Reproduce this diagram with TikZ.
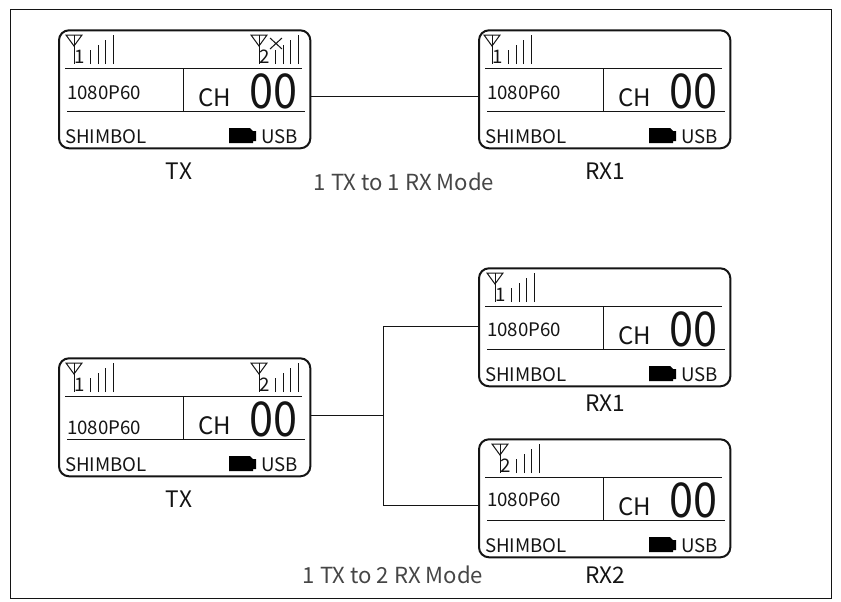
\documentclass[tikz,border=0pt]{standalone}
\usepackage{fontspec}
\setmainfont{Noto Sans CJK SC}
\definecolor{ink}{RGB}{20,20,20}
\definecolor{caption}{RGB}{70,70,70}
\tikzset{
	screen/.style={draw=ink,line width=1.5pt,rounded corners=7.5pt,minimum width=188.5pt,minimum height=88.5pt,anchor=north west,inner sep=0pt},
	thin line/.style={draw=ink,line width=0.75pt},
	small text/.style={inner sep=0pt,text=ink,font=\fontsize{14}{15}\selectfont},
	ch text/.style={inner sep=0pt,text=ink,font=\fontsize{18}{18}\selectfont},
	big text/.style={inner sep=0pt,text=ink,xscale=0.9,font=\fontsize{36}{36}\selectfont},
	label text/.style={inner sep=0pt,text=ink,font=\fontsize{17}{18}\selectfont},
	mode text/.style={inner sep=0pt,text=caption,font=\fontsize{16.6}{17}\selectfont}
}
% antenna with four bars: x of mast, y of box, name, number
\newcommand{\antenna}[4]{
	\draw[thin line] (#1-8,#2+5) -- (#1+8,#2+5) -- (#1,#2+16) -- cycle;
	\draw[thin line] (#1,#2+5) -- (#1,#2+34);
	\node[small text] (#3num) at (#1+6,#2+27) {#4};
	\foreach \b/\t in {16/20,24/15,31/10,39/5}
		\draw[thin line] (#1+\b,#2+34) -- (#1+\b,#2+\t);
}
% whole screen: name, x, y, height of the quality line
\newcommand{\lcdscreen}[4]{
	\node[screen] (#1) at (#2,#3-0.7) {};
	\draw[thin line] (#2+7,#3+38) -- (#2+244,#3+38);
	\draw[thin line] (#2+9,#3+81) -- (#2+247,#3+81);
	\draw[thin line] (#2+125,#3+38) -- (#2+125,#3+81);
	\node[small text,anchor=west] (#1res) at (#2+9,#3+#4+1) {1080P60};
	\node[ch text,anchor=west] (#1ch) at (#2+140,#3+68) {CH};
	\node[big text,anchor=west] (#1num) at (#2+191,#3+61) {00};
	\node[small text,anchor=west] (#1brand) at (#2+7,#3+107) {SHIMBOL};
	\fill[black] (#2+171,#3+98) -- (#2+192,#3+98) -- (#2+195,#3+101) -- (#2+198,#3+101) -- (#2+198,#3+111) -- (#2+195,#3+111) -- (#2+195,#3+113) -- (#2+171,#3+113) -- cycle;
	\node[small text,anchor=west] (#1usb) at (#2+203,#3+107) {USB};
}
\begin{document}
\begin{tikzpicture}[x=0.75pt,y=-0.75pt]
	\useasboundingbox (0,0) rectangle (841,601);
	\node[draw=ink,line width=0.75pt,minimum width=615.75pt,minimum height=441.75pt,anchor=north west,inner sep=0pt] (frame) at (10,9) {};

	\lcdscreen{tx1}{58}{30}{62}
	\lcdscreen{rx1}{478}{30}{62}
	\lcdscreen{rx3}{478}{268}{61}
	\lcdscreen{tx2}{58}{358}{69}
	\lcdscreen{rx2}{478}{439}{60}

	\antenna{74}{30}{tx1a}{1}
	\antenna{259}{30}{tx1b}{2}
	\draw[thin line] (270,38) -- (282,49) (282,38) -- (270,49);
	\antenna{492}{30}{rx1a}{1}
	\antenna{495}{268}{rx3a}{1}
	\antenna{74}{358}{tx2a}{1}
	\antenna{259}{358}{tx2b}{2}
	\antenna{500}{439}{rx2a}{2}

	\node[label text] (txa) at (179,171) {TX};
	\node[label text] (rxa) at (605,171) {RX1};
	\node[mode text] (modea) at (404,182) {1 TX to 1 RX Mode};
	\node[label text] (txb) at (179,499) {TX};
	\node[label text] (rxb) at (605,403) {RX1};
	\node[label text] (rxc) at (605,575) {RX2};
	\node[mode text] (modeb) at (393,575) {1 TX to 2 RX Mode};

	\coordinate (hub) at (383,415);
	\draw[thin line] (tx1.east |- 0,96) -- (rx1.west |- 0,96);
	\draw[thin line] (tx2.east |- hub) -- (hub);
	\draw[thin line] (rx3.west |- 0,326) -| (hub);
	\draw[thin line] (rx2.west |- 0,505) -| (hub);
\end{tikzpicture}
\end{document}
